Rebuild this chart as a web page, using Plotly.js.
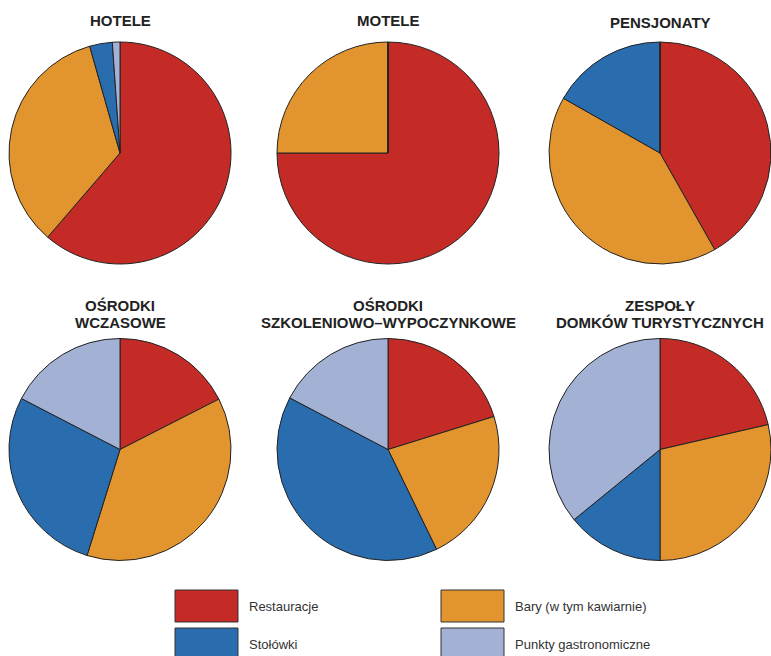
<!DOCTYPE html>
<html><head><meta charset="utf-8">
<script src="https://cdn.plot.ly/plotly-3.0.1.min.js"></script>
<style>html,body{margin:0;padding:0;background:#fff}#chart{width:771px;height:656px}</style>
</head><body><div id="chart"></div>
<script>
// Data (percent shares)
const categories = ["Restauracje", "Bary (w tym kawiarnie)", "Stołówki", "Punkty gastronomiczne"];
const colors = ["#C42B27", "#E2952F", "#2A6DAF", "#A3B1D5"];
const titles = ["HOTELE", "MOTELE", "PENSJONATY", "OŚRODKI<br>WCZASOWE", "OŚRODKI<br>SZKOLENIOWO–WYPOCZYNKOWE", "ZESPOŁY<br>DOMKÓW TURYSTYCZNYCH"];
const hotele = [61.3, 34.3, 3.3, 1.1];
const motele = [75, 25, 0, 0];
const pensjonaty = [41.8, 41.4, 16.8, 0];
const wczasowe = [17.5, 37.3, 27.8, 17.4];
const szkoleniowe = [20.2, 22.6, 39.9, 17.3];
const domki = [21.4, 28.6, 14.1, 35.9];
const series = [hotele, motele, pensjonaty, wczasowe, szkoleniowe, domki];

// Layout geometry
const W = 771, H = 656, R = 111;
const centers = [[120,153],[388,153],[660,153],[120,449.5],[388,449.5],[660,449.5]];
const titleY = [[21],[21],[23],[305.5,322.5],[305.5,322.5],[305.5,322.5]];

const data = series.map((vals, i) => {
  const [cx, cy] = centers[i];
  return {
    type: "pie",
    labels: categories,
    values: vals,
    sort: false,
    direction: "clockwise",
    rotation: 0,
    textinfo: "none",
    hoverinfo: "label+percent",
    showlegend: false,
    marker: {colors: colors, line: {color: "#222", width: 1}},
    domain: {x: [(cx - R) / W, Math.min(1, (cx + R) / W)], y: [1 - (cy + R) / H, 1 - (cy - R) / H]}
  };
});

const annotations = [];
titles.forEach((t, i) => {
  const lines = t.split("<br>");
  lines.forEach((ln, k) => {
    annotations.push({
      text: "<b>" + ln + "</b>", xref: "paper", yref: "paper",
      x: centers[i][0] / W, y: 1 - titleY[i][k] / H,
      xanchor: "center", yanchor: "middle", showarrow: false,
      font: {family: "Liberation Sans, Arial, sans-serif", size: 15, color: "#222"}
    });
  });
});

// Legend as boxes + labels
const legendPos = [[175, 590], [441, 590], [175, 628], [441, 628]];
const shapes = [];
categories.forEach((c, i) => {
  const [lx, ly] = legendPos[i];
  shapes.push({type: "rect", xref: "paper", yref: "paper",
    x0: lx / W, x1: (lx + 63) / W, y0: 1 - (ly + 32) / H, y1: 1 - ly / H,
    fillcolor: colors[i], line: {color: "#333", width: 1}});
  annotations.push({text: c, xref: "paper", yref: "paper",
    x: (lx + 72) / W, y: 1 - (ly + 16) / H, xanchor: "left", yanchor: "middle",
    showarrow: false, font: {family: "Liberation Sans, Arial, sans-serif", size: 13, color: "#333"}});
});

const layout = {
  width: W, height: H,
  margin: {l: 0, r: 0, t: 0, b: 0},
  paper_bgcolor: "#fff",
  annotations: annotations,
  shapes: shapes
};
Plotly.newPlot("chart", data, layout, {displayModeBar: false, staticPlot: true});
</script></body></html>
